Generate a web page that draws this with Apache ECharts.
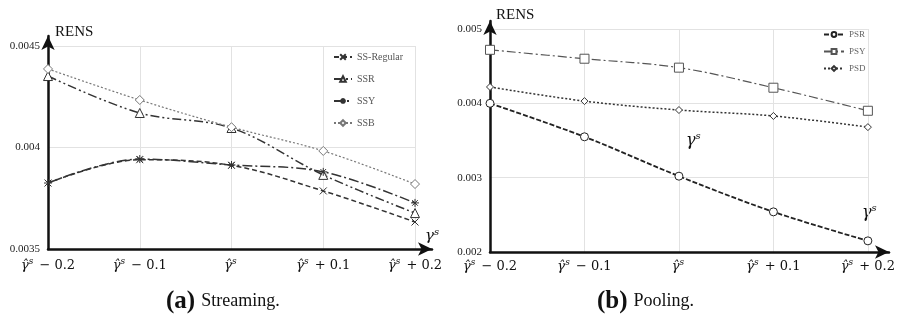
<!DOCTYPE html>
<html><head><meta charset="utf-8">
<script src="https://cdn.jsdelivr.net/npm/echarts@6/dist/echarts.min.js"></script>
<style>html,body{margin:0;padding:0;background:#fff}#c{width:898px;height:320px}</style>
</head><body><div id="c"></div>
<script>
// ---- data ----
const categories = ['γ̂ˢ − 0.2', 'γ̂ˢ − 0.1', 'γ̂ˢ', 'γ̂ˢ + 0.1', 'γ̂ˢ + 0.2'];
const ssRegular = [0.003825, 0.003940, 0.003912, 0.003786, 0.003633];
const ssr       = [0.004352, 0.004170, 0.004096, 0.003865, 0.003677];
const ssy       = [0.003825, 0.003943, 0.003914, 0.003880, 0.003727];
const ssb       = [0.004387, 0.004234, 0.004100, 0.003983, 0.003820];
const psr = [0.004000, 0.003550, 0.003020, 0.002540, 0.002150];
const psy = [0.004720, 0.004600, 0.004480, 0.004210, 0.003900];
const psd = [0.004220, 0.004030, 0.003910, 0.003830, 0.003680];
const leftTicks = {min: 0.0035, max: 0.0045, interval: 0.0005};
const rightTicks = {min: 0.002, max: 0.005, interval: 0.001};

const serif = 'Liberation Serif';
const mathFont = 'DejaVu Serif';
const chart = echarts.init(document.getElementById('c'));
const X_PATH = 'path://M0,0L10,10M10,0L0,10';
const STAR_PATH = 'path://M5,0L5,10M0,5L10,5M1.5,1.5L8.5,8.5M8.5,1.5L1.5,8.5';
const dark = '#333';

function labelFmt(v) {
  const m = v.match(/^(γ̂)ˢ(.*)$/);
  return '{g|' + m[1] + '}{s|s}{n|' + m[2] + '}';
}
const xRich = {
  g: {fontFamily: mathFont, fontStyle: 'italic', fontSize: 13, color: '#111', lineHeight: 17},
  s: {fontFamily: mathFont, fontStyle: 'italic', fontSize: 9, color: '#111', verticalAlign: 'top', lineHeight: 17, padding: [0, 2, 0, 0]},
  n: {fontFamily: mathFont, fontSize: 13, color: '#111', lineHeight: 17}
};
function yFmt(v) { return String(+v.toFixed(4)); }

function mkSeries(name, data, xi, dash, symbol, size, lineColor, width) {
  return {
    name, type: 'line', xAxisIndex: xi, yAxisIndex: xi, data,
    smooth: 0.35, symbol, symbolSize: size, showSymbol: true,
    lineStyle: {color: lineColor, width: width, type: dash},
    itemStyle: {color: '#fff', borderColor: lineColor, borderWidth: 1},
    emphasis: {disabled: true}, z: 3
  };
}
function gammaText(left, top, size) {
  return {type: 'text', left, top, style: {
    text: '{g|γ}{s|s}',
    rich: {g: {fontFamily: mathFont, fontStyle: 'italic', fontSize: size, fill: '#111', lineHeight: size + 4},
           s: {fontFamily: mathFont, fontStyle: 'italic', fontSize: Math.round(size * 0.65), fill: '#111', verticalAlign: 'top', lineHeight: size + 4}}}};
}
const capRich = {b: {fontFamily: serif, fontWeight: 'bold', fontSize: 25, fill: '#111', padding: [0, 6, 0, 0]},
                 n: {fontFamily: serif, fontSize: 18, fill: '#111'}};

const option = {
  animation: false,
  backgroundColor: '#fff',
  grid: [
    {left: 48, right: 483, top: 46, bottom: 71},
    {left: 490, right: 28, top: 29, bottom: 68},
    {left: 48, right: 466, top: 36, bottom: 71},
    {left: 490, right: 9, top: 21, bottom: 68}
  ],
  xAxis: [
    {type: 'category', gridIndex: 0, data: categories, boundaryGap: false,
     axisLine: {show: false}, axisTick: {show: false},
     axisLabel: {formatter: labelFmt, rich: xRich, margin: 8, interval: 0},
     splitLine: {show: true, lineStyle: {color: '#e2e2e2', width: 1}}},
    {type: 'category', gridIndex: 1, data: categories, boundaryGap: false,
     axisLine: {show: false}, axisTick: {show: false},
     axisLabel: {formatter: labelFmt, rich: xRich, margin: 6, interval: 0},
     splitLine: {show: true, lineStyle: {color: '#e2e2e2', width: 1}}},
    {type: 'value', gridIndex: 2, min: 0, max: 1, axisLabel: {show: false}, axisTick: {show: false}, splitLine: {show: false},
     axisLine: {show: true, symbol: ['none', 'arrow'], symbolSize: [10, 14], lineStyle: {color: '#111', width: 2.5}}},
    {type: 'value', gridIndex: 3, min: 0, max: 1, axisLabel: {show: false}, axisTick: {show: false}, splitLine: {show: false},
     axisLine: {show: true, symbol: ['none', 'arrow'], symbolSize: [10, 14], lineStyle: {color: '#111', width: 2.5}}}
  ],
  yAxis: [
    {type: 'value', gridIndex: 0, min: leftTicks.min, max: leftTicks.max, interval: leftTicks.interval,
     axisLine: {show: false}, axisTick: {show: false},
     axisLabel: {formatter: yFmt, fontFamily: serif, fontSize: 11, color: '#222', margin: 8},
     splitLine: {lineStyle: {color: '#e2e2e2', width: 1}}},
    {type: 'value', gridIndex: 1, min: rightTicks.min, max: rightTicks.max, interval: rightTicks.interval,
     axisLine: {show: false}, axisTick: {show: false},
     axisLabel: {formatter: yFmt, fontFamily: serif, fontSize: 11, color: '#222', margin: 8},
     splitLine: {lineStyle: {color: '#e2e2e2', width: 1}}},
    {type: 'value', gridIndex: 2, min: 0, max: 1, axisLabel: {show: false}, axisTick: {show: false}, splitLine: {show: false},
     axisLine: {show: true, symbol: ['none', 'arrow'], symbolSize: [10, 14], lineStyle: {color: '#111', width: 2.5}}},
    {type: 'value', gridIndex: 3, min: 0, max: 1, axisLabel: {show: false}, axisTick: {show: false}, splitLine: {show: false},
     axisLine: {show: true, symbol: ['none', 'arrow'], symbolSize: [10, 14], lineStyle: {color: '#111', width: 2.5}}}
  ],
  legend: [
    {data: ['SS-Regular', 'SSR', 'SSY', 'SSB'], orient: 'vertical', left: 328, top: 47,
     itemWidth: 18, itemHeight: 7, itemGap: 12,
     textStyle: {fontFamily: serif, fontSize: 10, color: '#555'}},
    {data: ['PSR', 'PSY', 'PSD'], orient: 'vertical', left: 818, top: 25,
     itemWidth: 20, itemHeight: 6, itemGap: 8,
     textStyle: {fontFamily: serif, fontSize: 9, color: '#666'}}
  ],
  series: [
    mkSeries('SS-Regular', ssRegular, 0, [5, 3], X_PATH, 7, dark, 1.5),
    mkSeries('SSR', ssr, 0, [9, 3, 2, 3, 2, 3], 'triangle', 9, dark, 1.5),
    mkSeries('SSY', ssy, 0, [10, 3, 2, 3], STAR_PATH, 8, dark, 1.5),
    mkSeries('SSB', ssb, 0, [2, 2], 'diamond', 9, '#777', 1.2),
    mkSeries('PSR', psr, 1, [5, 2], 'circle', 8, '#222', 1.8),
    mkSeries('PSY', psy, 1, [9, 3, 2, 3], 'rect', 9, '#555', 1.2),
    mkSeries('PSD', psd, 1, [2, 2], 'diamond', 7, '#333', 1.5)
  ],
  graphic: [
    {type: 'text', left: 55, top: 25, style: {text: 'RENS', font: '15px "Liberation Serif"', fill: '#111'}},
    {type: 'text', left: 496, top: 8, style: {text: 'RENS', font: '15px "Liberation Serif"', fill: '#111'}},
    gammaText(425, 227, 15),
    gammaText(686, 131, 16),
    gammaText(862, 203, 16),
    {type: 'text', left: 166, top: 289, style: {text: '{b|(a)}{n|Streaming.}', rich: capRich}},
    {type: 'text', left: 597, top: 289, style: {text: '{b|(b)}{n|Pooling.}', rich: capRich}}
  ]
};
chart.setOption(option);
</script></body></html>
